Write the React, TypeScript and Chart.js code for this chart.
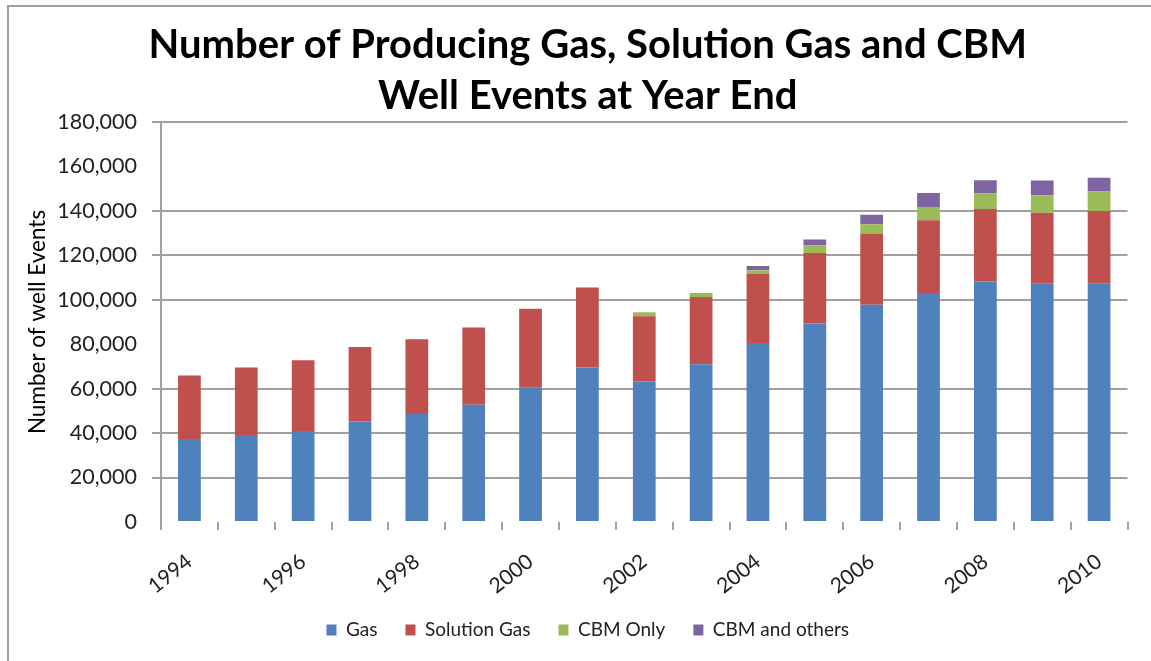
import React, { useEffect, useRef } from "react";
import { Chart, registerables } from "chart.js";

Chart.register(...registerables);

const years = ["1994","1995","1996","1997","1998","1999","2000","2001","2002","2003","2004","2005","2006","2007","2008","2009","2010"];
const gas = [37400, 39200, 41000, 45200, 48600, 52800, 60600, 69500, 63200, 71000, 80600, 89300, 97800, 103100, 108200, 107400, 107400];
const solutionGas = [28500, 30300, 31800, 33600, 33600, 34700, 35400, 36000, 29400, 30300, 31000, 31800, 32000, 32700, 32700, 31800, 32600];
const cbmOnly = [0, 0, 0, 0, 0, 0, 0, 0, 1800, 1800, 1700, 3400, 4200, 6000, 6900, 7800, 8700];
const cbmOthers = [0, 0, 0, 0, 0, 0, 0, 0, 0, 0, 1900, 2600, 4300, 6200, 6000, 6700, 6200];
const seriesNames = ["Gas", "Solution Gas", "CBM Only", "CBM and others"];
const seriesColors = ["#4F81BD", "#C0504D", "#9BBB59", "#8064A2"];
const titleLines = ["Number of Producing Gas, Solution Gas and CBM", "Well Events at Year End"];
const yTitle = "Number of well Events";
const hiddenGridValues = [0, 80000, 160000];

const FONT = "Lato, 'Open Sans', sans-serif";

// lets the rotated year labels extend below the x-axis box without being clipped
const unclipXLabels = {
  id: "unclipXLabels",
  afterLayout(chart: any) {
    const x = chart.scales.x;
    if (x) x.bottom = chart.height;
  },
};

export default function App() {
  const ref = useRef<HTMLCanvasElement>(null);
  useEffect(() => {
    if (!ref.current) return;
    const values = [gas, solutionGas, cbmOnly, cbmOthers];
    const chart = new Chart(ref.current, {
      type: "bar",
      data: {
        labels: years,
        datasets: values.map((d, i) => ({
          label: seriesNames[i],
          data: d,
          backgroundColor: seriesColors[i],
          borderWidth: 0,
          categoryPercentage: 1,
          barPercentage: 0.4,
        })),
      },
      plugins: [unclipXLabels],
      options: {
        responsive: false,
        animation: false,
        layout: { padding: { left: 48, right: 23.5, top: 0, bottom: 11.5 } },
        plugins: {
          title: {
            display: true,
            text: titleLines,
            color: "#000",
            font: { family: FONT, size: 40, weight: "bold", lineHeight: 1.26 },
            padding: { top: 20, bottom: 1.2 },
          },
          legend: {
            position: "bottom",
            labels: {
              boxWidth: 10,
              boxHeight: 11,
              padding: 28,
              color: "#222",
              font: { family: FONT, size: 19 },
            },
          },
          tooltip: { enabled: false },
        },
        scales: {
          x: {
            stacked: true,
            afterFit: (s: any) => { s.height = 70.5; },
            border: { display: false },
            grid: {
              offset: true,
              drawOnChartArea: false,
              drawTicks: true,
              tickLength: 8,
              color: "#a0a0a0",
              lineWidth: 2,
            },
            ticks: {
              autoSkip: false,
              maxRotation: 38,
              minRotation: 38,
              padding: 19,
              color: "#222",
              font: { family: FONT, size: 21 },
              callback: (_v: any, i: number) => (i % 2 === 0 ? years[i] : ""),
            },
          },
          y: {
            stacked: true,
            min: 0,
            max: 180000,
            afterFit: (s: any) => { s.width = 113; },
            border: { display: true, color: "#a0a0a0", width: 2 },
            grid: {
              color: (ctx: any) =>
                ctx.tick && hiddenGridValues.includes(ctx.tick.value) ? "rgba(0,0,0,0)" : "#a0a0a0",
              lineWidth: 2,
              tickLength: 9,
            },
            ticks: {
              stepSize: 20000,
              padding: 15,
              color: "#222",
              font: { family: FONT, size: 21.5 },
            },
            title: {
              display: true,
              text: yTitle,
              color: "#000",
              font: { family: FONT, size: 22.5 },
              padding: { top: -24, bottom: 0 },
            },
          },
        },
      },
    });
    return () => chart.destroy();
  }, []);

  return (
    <div style={{ position: "fixed", left: 0, top: 0, width: 1151, height: 661, background: "#fff", overflow: "hidden" }}>
      <div style={{ position: "absolute", left: 7, top: 5, width: 1200, height: 700, borderLeft: "2px solid #a0a0a0", borderTop: "2px solid #a0a0a0" }} />
      <canvas ref={ref} width={1151} height={661} style={{ position: "absolute", left: 0, top: 0, display: "block" }} />
    </div>
  );
}
